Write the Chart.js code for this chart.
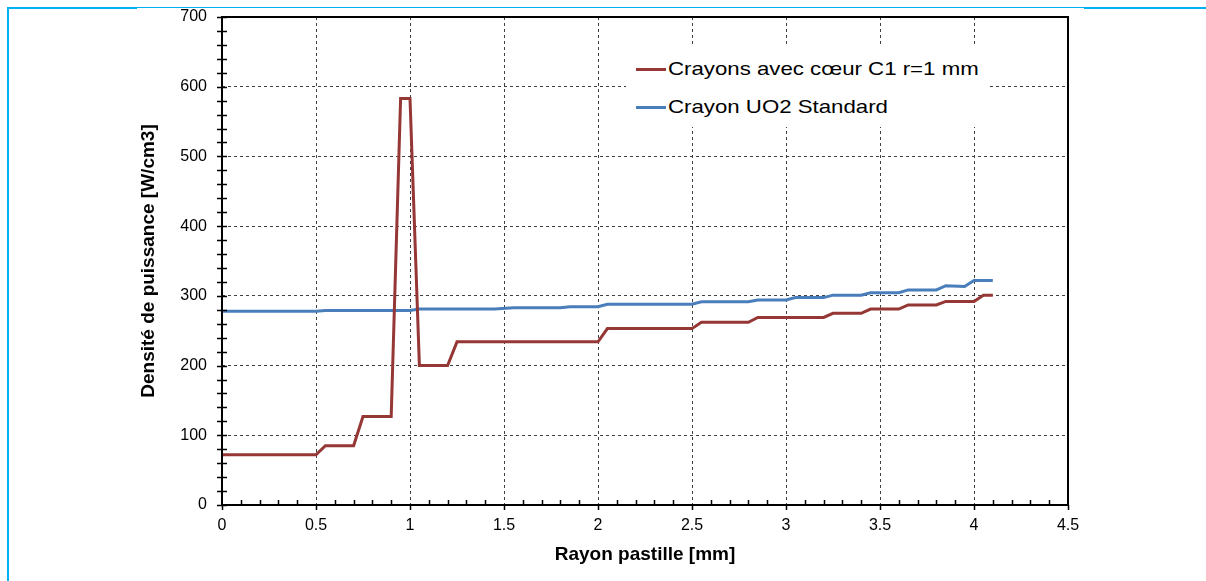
<!DOCTYPE html>
<html>
<head>
<meta charset="utf-8">
<script src="https://cdn.jsdelivr.net/npm/chart.js@4/dist/chart.umd.min.js"></script>
<style>
  html, body { margin: 0; padding: 0; background: #fff; }
  #wrap { position: relative; width: 1206px; height: 581px; overflow: hidden; }
  canvas { position: absolute; left: 0; top: 0; }
  .cy { position: absolute; background: #00b0f0; }
  #legend { position: absolute; left: 626px; top: 47px; width: 361px; height: 80px; background: #fff;
            font-family: "Liberation Sans", Arial, sans-serif; font-size: 19px; color: #000; }
  .item { position: absolute; left: 10px; height: 24px; display: flex; align-items: center; white-space: nowrap; }
  .swatch { width: 30px; height: 3px; margin-right: 2px; }
  .txt { display: inline-block; transform: scaleX(1.17); transform-origin: left center; }
</style>
</head>
<body>
<div id="wrap">
  <canvas id="c" width="1206" height="581"></canvas>
  <div class="cy" style="left:7px; top:7px; width:2px; height:574px;"></div>
  <div class="cy" style="left:7px; top:7px; width:130px; height:2px;"></div>
  <div class="cy" style="left:137px; top:7px; width:947px; height:1px;"></div>
  <div class="cy" style="left:1084px; top:7px; width:122px; height:2px;"></div>
  <div id="legend"></div>
</div>
<script>
// ---- data ----
const seriesLabels = ['Crayons avec cœur C1 r=1 mm', 'Crayon UO2 Standard'];
const seriesColors = ['#953735', '#4a7ebb'];
const redX  = [0, 0.5, 0.55, 0.7, 0.75, 0.9, 0.95, 1.0, 1.05, 1.2, 1.25, 2.0, 2.05, 2.5, 2.55, 2.8, 2.85, 3.2, 3.25, 3.4, 3.45, 3.6, 3.65, 3.8, 3.85, 4.0, 4.05, 4.1];
const redY  = [72, 72, 85, 85, 127, 127, 583, 583, 200, 200, 234, 234, 253, 253, 262, 262, 269, 269, 275, 275, 281, 281, 287, 287, 292, 292, 301, 301];
const blueX = [0, 0.5, 0.55, 1.0, 1.05, 1.45, 1.55, 1.8, 1.85, 2.0, 2.05, 2.5, 2.55, 2.8, 2.85, 3.0, 3.05, 3.2, 3.25, 3.4, 3.45, 3.6, 3.65, 3.8, 3.85, 3.95, 4.0, 4.1];
const blueY = [278, 278, 279, 279, 281, 281, 283, 283, 284.5, 284.5, 288, 288, 291.5, 291.5, 294, 294, 297.5, 297.5, 301, 301, 304.5, 304.5, 308.5, 308.5, 314.5, 313.5, 322, 322];
const xAxisTitle = 'Rayon pastille [mm]';
const yAxisTitle = 'Densité de puissance [W/cm3]';
const xMin = 0, xMax = 4.5, xStep = 0.5, xMinorStep = 0.1;
const yMin = 0, yMax = 700, yStep = 100, yMinorStep = 20;

const toPoints = (xs, ys) => xs.map((x, i) => ({ x: x, y: ys[i] }));
const FONT = '"Liberation Sans", Arial, sans-serif';

const framePlugin = {
  id: 'frame',
  afterDraw(chart) {
    const { ctx, chartArea: a, scales } = chart;
    ctx.save();
    ctx.strokeStyle = '#000';
    ctx.lineWidth = 1.5;
    ctx.beginPath();
    for (let v = yMin; v <= yMax + 1e-9; v += yMinorStep) {
      const py = Math.round(scales.y.getPixelForValue(v)) + 0.5;
      ctx.moveTo(a.left - 5, py); ctx.lineTo(a.left + 5, py);
    }
    const n = Math.round((xMax - xMin) / xMinorStep);
    for (let i = 0; i <= n; i++) {
      const v = xMin + i * xMinorStep;
      const px = Math.round(scales.x.getPixelForValue(v)) + 0.5;
      if (i % 5 === 0) { ctx.moveTo(px, a.bottom); ctx.lineTo(px, a.bottom + 5); }
      else { ctx.moveTo(px, a.bottom - 5); ctx.lineTo(px, a.bottom); }
    }
    ctx.stroke();
    ctx.lineWidth = 2;
    ctx.strokeRect(Math.round(a.left), Math.round(a.top), Math.round(a.right - a.left), Math.round(a.bottom - a.top));
    ctx.restore();
  }
};

const chart = new Chart(document.getElementById('c'), {
  type: 'line',
  data: {
    datasets: [
      { label: seriesLabels[0], data: toPoints(redX, redY), borderColor: seriesColors[0], backgroundColor: seriesColors[0],
        borderWidth: 3, pointRadius: 0, tension: 0, fill: false },
      { label: seriesLabels[1], data: toPoints(blueX, blueY), borderColor: seriesColors[1], backgroundColor: seriesColors[1],
        borderWidth: 3, pointRadius: 0, tension: 0, fill: false }
    ]
  },
  options: {
    responsive: false,
    animation: false,
    devicePixelRatio: 1,
    layout: { padding: { left: 0, right: 138, top: 17, bottom: 0 } },
    plugins: { legend: { display: false }, tooltip: { enabled: false } },
    scales: {
      x: {
        type: 'linear', min: xMin, max: xMax,
        afterFit(s) { s.height = 76; s.paddingLeft = 0; s.paddingRight = 0; },
        ticks: { stepSize: xStep, padding: 11, color: '#000', font: { family: FONT, size: 16 }, maxRotation: 0,
                 callback: (v) => String(Number(v)) },
        grid: { drawTicks: false, color: '#404040', lineWidth: 1 },
        border: { display: false, dash: [3, 3] },
        title: { display: true, text: xAxisTitle, color: '#000', font: { family: FONT, size: 19, weight: 'bold' }, padding: { top: 0, bottom: 15 } }
      },
      y: {
        type: 'linear', min: yMin, max: yMax,
        afterFit(s) { s.width = 222; s.paddingTop = 0; s.paddingBottom = 0; },
        ticks: { stepSize: yStep, padding: 15, color: '#000', font: { family: FONT, size: 16 },
                 callback: (v) => String(Number(v)) },
        grid: { drawTicks: false, color: '#404040', lineWidth: 1 },
        border: { display: false, dash: [3, 3] },
        title: { display: true, text: yAxisTitle, color: '#000', font: { family: FONT, size: 19, weight: 'bold' }, padding: { top: 137, bottom: 0 } }
      }
    }
  },
  plugins: [framePlugin]
});

const leg = document.getElementById('legend');
chart.data.datasets.forEach((ds, i) => {
  const it = document.createElement('div');
  it.className = 'item';
  it.style.top = (i === 0 ? 10 : 48) + 'px';
  const sw = document.createElement('span');
  sw.className = 'swatch';
  sw.style.background = ds.borderColor;
  const tx = document.createElement('span');
  tx.className = 'txt';
  tx.textContent = ds.label;
  it.appendChild(sw); it.appendChild(tx);
  leg.appendChild(it);
});
</script>
</body>
</html>
